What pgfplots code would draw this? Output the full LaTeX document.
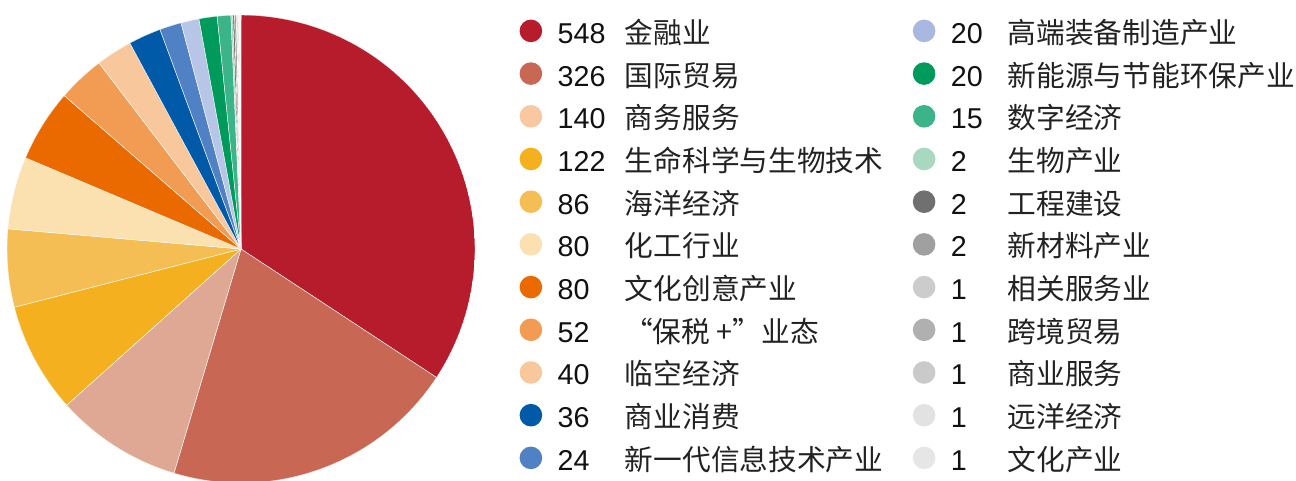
\documentclass[border=0pt]{standalone}
\usepackage{pgfplots}
\pgfplotsset{compat=1.18}
\usepgfplotslibrary{polar}
\usepackage{fontspec}
\setmainfont{Liberation Sans}
\newfontfamily\cjk{Noto Sans CJK SC}

\definecolor{c1}{HTML}{B71C2C}
\definecolor{c2}{HTML}{C96755}
\definecolor{c3}{HTML}{DFA895}
\definecolor{c3l}{HTML}{F8C8A0}
\definecolor{c4}{HTML}{F4B01E}
\definecolor{c5}{HTML}{F5BE55}
\definecolor{c6}{HTML}{FBE0B0}
\definecolor{c7}{HTML}{EB6A00}
\definecolor{c8}{HTML}{F29B52}
\definecolor{c9}{HTML}{F8C89C}
\definecolor{c10}{HTML}{005AA8}
\definecolor{c11}{HTML}{5081C4}
\definecolor{c12}{HTML}{B7C6E6}
\definecolor{c12l}{HTML}{A8B8E0}
\definecolor{c13}{HTML}{009A5C}
\definecolor{c14}{HTML}{3BB48A}
\definecolor{c15}{HTML}{A8D8C0}
\definecolor{c16}{HTML}{707070}
\definecolor{c17}{HTML}{A0A0A0}
\definecolor{c18}{HTML}{CCCCCC}
\definecolor{c19}{HTML}{B0B0B0}
\definecolor{c20}{HTML}{CACACA}
\definecolor{c21}{HTML}{E2E2E2}
\definecolor{c22}{HTML}{E6E6E6}
\definecolor{txt}{HTML}{111111}
\definecolor{txtc}{HTML}{222222}

\def\total{1600}
\gdef\cum{0}
\newcommand\slice[2]{%
  \pgfmathsetmacro\sa{90-\cum/\total*360}%
  \pgfmathsetmacro\cumnew{\cum+#1}%
  \pgfmathsetmacro\sb{90-\cumnew/\total*360}%
  \pgfmathtruncatemacro\ns{max(3,(\sa-\sb)/1.5+3)}%
  \xdef\cum{\cumnew}%
  \edef\tmp{\noexpand\addplot[fill=#2, draw=white, line width=0.4bp, forget plot, domain=\sb:\sa, samples=\ns] {1} -- (axis cs:0,0) -- cycle;}%
  \tmp
}
\newcommand\entA[2]{\makebox[355bp][l]{\makebox[67.3bp][l]{#1}{\cjk\color{txtc}#2}}}
\newcommand\entB[2]{\makebox[330bp][l]{\makebox[57bp][l]{#1}{\cjk\color{txtc}#2}}}

\begin{document}
\begin{tikzpicture}
\useasboundingbox (0,0) rectangle (1296bp,481bp);
\begin{polaraxis}[
  at={(241bp,232bp)}, anchor=origin,
  width=468bp, height=468bp, scale only axis,
  xmin=0, xmax=360, ymin=0, ymax=1,
  hide axis,
]
\slice{548}{c1}
\slice{326}{c2}
\slice{140}{c3}
\slice{122}{c4}
\slice{86}{c5}
\slice{80}{c6}
\slice{80}{c7}
\slice{52}{c8}
\slice{40}{c9}
\slice{36}{c10}
\slice{24}{c11}
\slice{20}{c12}
\slice{20}{c13}
\slice{15}{c14}
\slice{2}{c15}
\slice{2}{c16}
\slice{2}{c17}
\slice{1}{c18}
\slice{1}{c19}
\slice{1}{c20}
\slice{1}{c21}
\slice{1}{c22}
\end{polaraxis}
\begin{axis}[
  at={(0bp,0bp)}, anchor=south west,
  width=1296bp, height=481bp, scale only axis,
  xmin=0, xmax=1, ymin=0, ymax=1,
  hide axis,
  legend columns=2,
  legend image code/.code={\path (-11.3bp,-14.7bp) (26.5bp,27.6bp); \path[#1, draw=none] (0,12.5bp) circle (11.3bp);},
  legend cell align=left,
  legend style={at={(axis description cs:0.40077,0.96757)}, anchor=north west, draw=none, fill=none,
    inner sep=0pt, outer sep=0pt, column sep=0pt, row sep=0pt,
    font=\fontsize{28.7bp}{28.7bp}\selectfont, text=txt,
    nodes={inner sep=0pt, outer sep=0pt, anchor=base west}},
]
\addlegendimage{fill=c1}\addlegendentry{\entA{548}{金融业}}
\addlegendimage{fill=c12l}\addlegendentry{\entB{20}{高端装备制造产业}}
\addlegendimage{fill=c2}\addlegendentry{\entA{326}{国际贸易}}
\addlegendimage{fill=c13}\addlegendentry{\entB{20}{新能源与节能环保产业}}
\addlegendimage{fill=c3l}\addlegendentry{\entA{140}{商务服务}}
\addlegendimage{fill=c14}\addlegendentry{\entB{15}{数字经济}}
\addlegendimage{fill=c4}\addlegendentry{\entA{122}{生命科学与生物技术}}
\addlegendimage{fill=c15}\addlegendentry{\entB{2}{生物产业}}
\addlegendimage{fill=c5}\addlegendentry{\entA{86}{海洋经济}}
\addlegendimage{fill=c16}\addlegendentry{\entB{2}{工程建设}}
\addlegendimage{fill=c6}\addlegendentry{\entA{80}{化工行业}}
\addlegendimage{fill=c17}\addlegendentry{\entB{2}{新材料产业}}
\addlegendimage{fill=c7}\addlegendentry{\entA{80}{文化创意产业}}
\addlegendimage{fill=c18}\addlegendentry{\entB{1}{相关服务业}}
\addlegendimage{fill=c8}\addlegendentry{\entA{52}{\makebox[28bp][r]{“}保税 +”业态}}
\addlegendimage{fill=c19}\addlegendentry{\entB{1}{跨境贸易}}
\addlegendimage{fill=c9}\addlegendentry{\entA{40}{临空经济}}
\addlegendimage{fill=c20}\addlegendentry{\entB{1}{商业服务}}
\addlegendimage{fill=c10}\addlegendentry{\entA{36}{商业消费}}
\addlegendimage{fill=c21}\addlegendentry{\entB{1}{远洋经济}}
\addlegendimage{fill=c11}\addlegendentry{\entA{24}{新一代信息技术产业}}
\addlegendimage{fill=c22}\addlegendentry{\entB{1}{文化产业}}
\end{axis}
\end{tikzpicture}
\end{document}
